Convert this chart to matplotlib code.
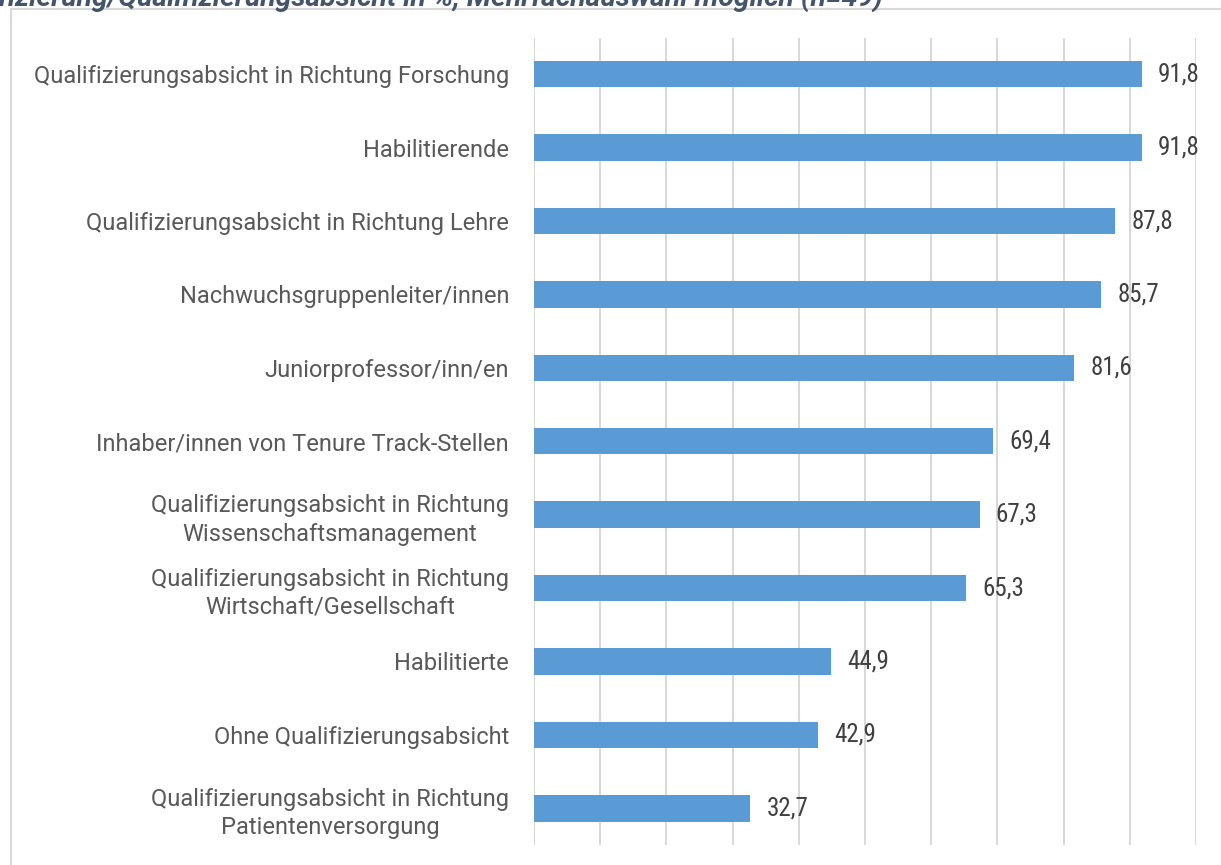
import matplotlib
matplotlib.use("Agg")
import matplotlib.pyplot as plt
from matplotlib.patches import Rectangle
from matplotlib import font_manager

categories = [
    "Qualifizierungsabsicht in Richtung Forschung",
    "Habilitierende",
    "Qualifizierungsabsicht in Richtung Lehre",
    "Nachwuchsgruppenleiter/innen",
    "Juniorprofessor/inn/en",
    "Inhaber/innen von Tenure Track-Stellen",
    "Qualifizierungsabsicht in Richtung\nWissenschaftsmanagement",
    "Qualifizierungsabsicht in Richtung\nWirtschaft/Gesellschaft",
    "Habilitierte",
    "Ohne Qualifizierungsabsicht",
    "Qualifizierungsabsicht in Richtung\nPatientenversorgung",
]
values = [91.8, 91.8, 87.8, 85.7, 81.6, 69.4, 67.3, 65.3, 44.9, 42.9, 32.7]
value_labels = ["91,8", "91,8", "87,8", "85,7", "81,6", "69,4", "67,3", "65,3", "44,9", "42,9", "32,7"]
title = "fizierung/Qualifizierungsabsicht in %, Mehrfachauswahl möglich (n=49)"

plt.rcParams['font.family'] = ['Roboto', 'DejaVu Sans']

available = {f.name for f in font_manager.fontManager.ttflist}
value_family = ['Roboto']
value_size = 15
for cand in ['Roboto Condensed', 'Liberation Sans Narrow']:
    if cand in available:
        value_family = [cand, 'Roboto']
        value_size = 18
        break

W, H = 1221, 865
fig = plt.figure(figsize=(W / 100, H / 100), dpi=100)

# outer border
fig.patches.append(Rectangle((10.5 / W, -0.01), 1.2, (H - 8.5) / H + 0.01, transform=fig.transFigure,
                             fill=False, edgecolor="#D9D9D9", linewidth=1.5))
# cropped title at top
fig.text(-2 / W, 1 - 6.5 / H, title, ha="left", va="baseline",
         fontsize=20.4, fontweight="bold", fontstyle="italic", color="#44546A")

ax = fig.add_axes([534 / W, (H - 845) / H, (1196 - 534) / W, (845 - 37.5) / H])
n = len(categories)
ypos = list(range(n))
ax.barh(ypos, values, height=0.36, color="#5B9BD5", zorder=3)
ax.set_xlim(0, 100)
ax.set_ylim(n - 0.5, -0.5)
ax.set_xticks(range(0, 101, 10))
ax.xaxis.grid(True, color="#D9D9D9", linewidth=1.5, zorder=0)
ax.tick_params(axis="x", length=0, labelbottom=False)
ax.tick_params(axis="y", length=0, pad=18)
ax.set_yticks(ypos)
ax.set_yticklabels(categories, fontsize=17, color="#595959", multialignment="center",
                   linespacing=1.3)
for s in ax.spines.values():
    s.set_visible(False)

for y, v, lab in zip(ypos, values, value_labels):
    ax.annotate(lab, (v, y), xytext=(16, 0), textcoords="offset pixels",
                ha="left", va="center", fontsize=value_size, color="#404040",
                family=value_family, fontweight="normal")

fig.savefig("out.png", dpi=100)
